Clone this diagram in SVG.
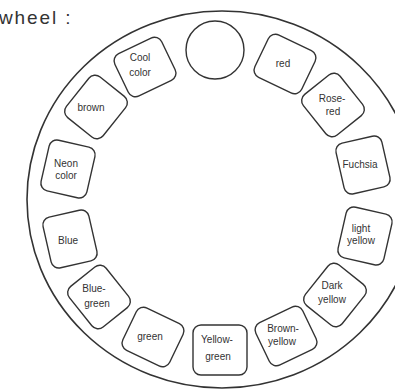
<svg xmlns="http://www.w3.org/2000/svg" width="395" height="390" viewBox="0 0 395 390">
<style>
.box{fill:#fff;stroke:#333;stroke-width:1.4}
.lbl{font-family:"Liberation Sans",Arial,sans-serif;font-size:10px;fill:#333;text-anchor:middle}
.ring{fill:#fff;stroke:#333;stroke-width:1.6}
</style>
<rect width="395" height="390" fill="#fff"/>
<text x="-1" y="24" font-family="Liberation Sans,Arial,sans-serif" font-size="19" letter-spacing="1.9" fill="#333">wheel :</text>
<g id="wheel">
<ellipse class="ring" cx="222" cy="199.5" rx="195" ry="188.5"/>
</g>
<g id="top-circle"><circle cx="215" cy="50" r="29" fill="none" stroke="#333" stroke-width="1.4"/></g>
<g id="connectors"/>
<g id="red"><rect class="box" x="-26" y="-23.5" width="52" height="47" rx="8" transform="translate(285,64) rotate(25.7)"/><text class="lbl" x="283" y="67">red</text></g>
<g id="rose-red"><rect class="box" x="-26" y="-23.5" width="52" height="47" rx="8" transform="translate(333,105) rotate(51.4)"/><text class="lbl" x="332" y="102">Rose-</text><text class="lbl" x="333" y="115">red</text></g>
<g id="fuchsia"><rect class="box" x="-26" y="-23.5" width="52" height="47" rx="8" transform="translate(363,165) rotate(77.1)"/><text class="lbl" x="360" y="168">Fuchsia</text></g>
<g id="light-yellow"><rect class="box" x="-26" y="-23.5" width="52" height="47" rx="8" transform="translate(365,236) rotate(102.9)"/><text class="lbl" x="361" y="232">light</text><text class="lbl" x="361" y="244">yellow</text></g>
<g id="dark-yellow"><rect class="box" x="-26" y="-23.5" width="52" height="47" rx="8" transform="translate(335,295) rotate(128.6)"/><text class="lbl" x="332" y="289">Dark</text><text class="lbl" x="332" y="303">yellow</text></g>
<g id="brown-yellow"><rect class="box" x="-26" y="-23.5" width="52" height="47" rx="8" transform="translate(286,336) rotate(154.3)"/><text class="lbl" x="283" y="332">Brown-</text><text class="lbl" x="282" y="345">yellow</text></g>
<g id="yellow-green"><rect class="box" x="-27" y="-25" width="54" height="50" rx="8" transform="translate(220,350)"/><text class="lbl" x="217" y="343">Yellow-</text><text class="lbl" x="218" y="360">green</text></g>
<g id="green"><rect class="box" x="-26" y="-23.5" width="52" height="47" rx="8" transform="translate(153,337) rotate(205.7)"/><text class="lbl" x="150" y="340">green</text></g>
<g id="blue-green"><rect class="box" x="-26" y="-23.5" width="52" height="47" rx="8" transform="translate(99,297) rotate(231.4)"/><text class="lbl" x="94" y="292">Blue-</text><text class="lbl" x="97" y="307">green</text></g>
<g id="blue"><rect class="box" x="-26" y="-23.5" width="52" height="47" rx="8" transform="translate(70,239) rotate(257.1)"/><text class="lbl" x="68" y="244">Blue</text></g>
<g id="neon-color"><rect class="box" x="-26" y="-23.5" width="52" height="47" rx="8" transform="translate(68,169) rotate(282.9)"/><text class="lbl" x="66" y="167">Neon</text><text class="lbl" x="66" y="179">color</text></g>
<g id="brown"><rect class="box" x="-26" y="-23.5" width="52" height="47" rx="8" transform="translate(96,107) rotate(308.6)"/><text class="lbl" x="91" y="111">brown</text></g>
<g id="cool-color"><rect class="box" x="-26" y="-23.5" width="52" height="47" rx="8" transform="translate(145,67) rotate(334.3)"/><text class="lbl" x="140" y="61">Cool</text><text class="lbl" x="140" y="76">color</text></g>
</svg>
